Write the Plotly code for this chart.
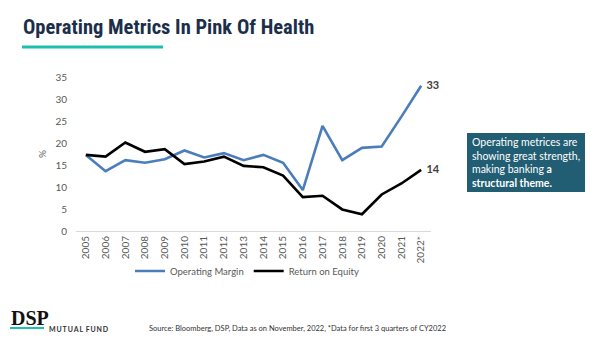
import plotly.graph_objects as go

years = ["2005","2006","2007","2008","2009","2010","2011","2012","2013","2014",
         "2015","2016","2017","2018","2019","2020","2021","2022*"]
operating_margin = [17.3,13.6,16.1,15.5,16.3,18.3,16.7,17.7,16.1,17.3,
                    15.5,9.3,23.9,16.1,18.9,19.2,26.0,33.0]
return_on_equity = [17.3,16.9,20.1,18.0,18.6,15.2,15.8,16.9,14.8,14.5,
                    12.6,7.7,8.0,4.9,3.8,8.3,10.8,13.9]
y_ticks = [0,5,10,15,20,25,30,35]
end_labels = ["33","14"]

W, H = 598, 339
L, R, T, B = 76, 431, 77, 231  # plot area in pixels

def px(x):
    return (x - L) / (R - L)

def py(y):
    return (B - y) / (B - T)

def last_label(vals, lab):
    return [""] * (len(vals) - 1) + ["  " + lab]

fig = go.Figure()
fig.add_trace(go.Scatter(
    x=years, y=operating_margin, name="Operating Margin",
    mode="lines+text", line=dict(color="#4a7ebb", width=2.6),
    text=last_label(operating_margin, end_labels[0]), textposition="middle right",
    textfont=dict(family="Lato", size=11, color="#404040", weight="bold"),
    cliponaxis=False))
fig.add_trace(go.Scatter(
    x=years, y=return_on_equity, name="Return on Equity",
    mode="lines+text", line=dict(color="#000000", width=2.6),
    text=last_label(return_on_equity, end_labels[1]), textposition="middle right",
    textfont=dict(family="Lato", size=11, color="#404040", weight="bold"),
    cliponaxis=False))

tick_font = dict(family="Lato", size=10, color="#595959")
fig.update_layout(
    width=W, height=H,
    margin=dict(l=L, r=W - R, t=T, b=H - B),
    paper_bgcolor="white", plot_bgcolor="white",
    showlegend=True,
    legend=dict(orientation="h", x=px(247), y=py(271), xanchor="center", yanchor="middle",
                font=dict(family="Lato", size=9.5, color="#595959"),
                itemwidth=30, tracegroupgap=0, bgcolor="rgba(0,0,0,0)"),
    xaxis=dict(type="category", range=[-0.5, len(years) - 0.5],
               tickangle=-90, tickfont=tick_font, showgrid=False,
               showline=True, linecolor="#d9d9d9", linewidth=1,
               ticks="", zeroline=False, fixedrange=True),
    yaxis=dict(range=[0, 35], tickvals=y_ticks, tickfont=tick_font,
               showgrid=False, zeroline=False, showline=False, ticks="",
               ticklabelstandoff=8,
               title=dict(text="%", font=dict(family="Lato", size=10, color="#595959"),
                          standoff=6),
               fixedrange=True),
)

# Title
fig.add_annotation(text="<b>Operating Metrics In Pink Of Health</b>",
                   xref="paper", yref="paper", x=px(21), y=py(27),
                   xanchor="left", yanchor="middle", showarrow=False,
                   font=dict(family="Roboto Condensed, Noto Sans Condensed, DejaVu Sans Condensed, Roboto",
                             size=20.5, color="#1b2f4b"))
fig.add_shape(type="rect", xref="paper", yref="paper",
              x0=px(22), x1=px(163), y0=py(45.5), y1=py(48.5),
              fillcolor="#1dbfad", line=dict(width=0), layer="above")

# Callout box
fig.add_shape(type="rect", xref="paper", yref="paper",
              x0=px(467), x1=px(585), y0=py(133), y1=py(192),
              fillcolor="#215e73", line=dict(width=0), layer="below")
fig.add_annotation(text="Operating metrices are<br>showing great strength,<br>making banking <b>a</b><br><b>structural theme.</b>",
                   xref="paper", yref="paper", x=px(470), y=py(162.5),
                   xanchor="left", yanchor="middle", align="left", showarrow=False,
                   font=dict(family="Lato", size=10.5, color="white"))

# Logo
fig.add_annotation(text="<b>DSP</b>", xref="paper", yref="paper",
                   x=px(9), y=py(318), xanchor="left", yanchor="middle", showarrow=False,
                   font=dict(family="Liberation Serif", size=20, color="#111111"))
fig.add_shape(type="rect", xref="paper", yref="paper",
              x0=px(10), x1=px(44), y0=py(327), y1=py(329),
              fillcolor="#1dbfad", line=dict(width=0), layer="above")
fig.add_annotation(text="<b>M\u2009U\u2009T\u2009U\u2009A\u2009L\u2009 F\u2009U\u2009N\u2009D</b>",
                   xref="paper", yref="paper",
                   x=px(47), y=py(328.5), xanchor="left", yanchor="middle", showarrow=False,
                   font=dict(family="Lato", size=7, color="#333333"))

# Source
fig.add_annotation(text="Source: Bloomberg, DSP, Data as on November, 2022, *Data for first 3 quarters of CY2022",
                   xref="paper", yref="paper", x=px(147), y=py(328),
                   xanchor="left", yanchor="middle", showarrow=False,
                   font=dict(family="Lato", size=7.5, color="#333333"))

fig.write_html("out.html")
